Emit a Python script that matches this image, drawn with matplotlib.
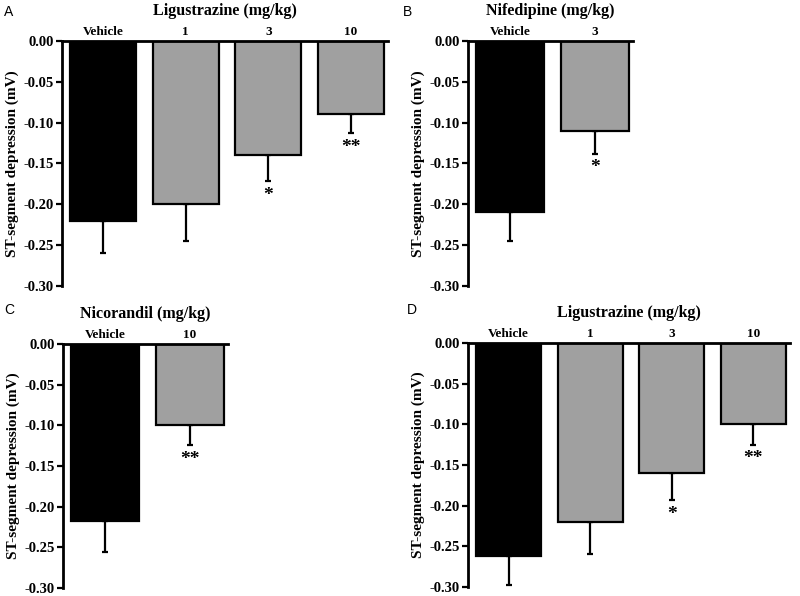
import matplotlib
matplotlib.use("Agg")
import matplotlib.pyplot as plt

# ---- data ----
a_labels = ["Vehicle", "1", "3", "10"]
a_means = [-0.220, -0.200, -0.140, -0.090]
a_errs = [0.040, 0.045, 0.032, 0.023]
a_sig = ["", "", "*", "**"]

b_labels = ["Vehicle", "3"]
b_means = [-0.210, -0.110]
b_errs = [0.0345, 0.028]
b_sig = ["", "*"]

c_labels = ["Vehicle", "10"]
c_means = [-0.218, -0.100]
c_errs = [0.038, 0.024]
c_sig = ["", "**"]

d_labels = ["Vehicle", "1", "3", "10"]
d_means = [-0.262, -0.220, -0.160, -0.100]
d_errs = [0.036, 0.040, 0.033, 0.025]
d_sig = ["", "", "*", "**"]

yticks = [0.00, -0.05, -0.10, -0.15, -0.20, -0.25, -0.30]

SERIF = ["Liberation Serif", "DejaVu Serif"]
SANS = ["Liberation Sans", "DejaVu Sans"]

fig = plt.figure(figsize=(8, 5.96), dpi=100)

panels = [
    ("A", "Ligustrazine (mg/kg)", a_labels, a_means, a_errs, a_sig, [62, 388, 41, 286], (9, 11.5)),
    ("B", "Nifedipine (mg/kg)", b_labels, b_means, b_errs, b_sig, [468, 633, 41, 286], (408, 11.5)),
    ("C", "Nicorandil (mg/kg)", c_labels, c_means, c_errs, c_sig, [63, 228, 344, 588], (9, 310.5)),
    ("D", "Ligustrazine (mg/kg)", d_labels, d_means, d_errs, d_sig, [468, 790, 343, 587], (412, 310.5)),
]

W, H = 800, 596
for letter, title, labels, means, errs, sig, (x0, x1, y0, y1), (lx, ly) in panels:
    ax = fig.add_axes([x0 / W, 1 - y1 / H, (x1 - x0) / W, (y1 - y0) / H])
    n = len(labels)
    xs = list(range(n))
    colors = ["#000000"] + ["#a0a0a0"] * (n - 1)
    ax.bar(xs, means, width=0.8, color=colors, edgecolor="black", linewidth=1.6, zorder=2)
    lower = errs
    upper = [0] * n
    ax.errorbar(xs, means, yerr=[lower, upper], fmt="none", ecolor="black",
                elinewidth=1.6, capsize=2.2, capthick=1.6, zorder=1)
    for x, m, e, s in zip(xs, means, errs, sig):
        if s:
            ax.text(x, m - e - 0.007, s, ha="center", va="top", fontsize=14,
                    fontweight="bold", family=SERIF)
    ax.set_xlim(-0.5, n - 0.55)
    ax.set_ylim(-0.30, 0.0)
    ax.set_yticks(yticks)
    ax.set_yticklabels([f"{v:.2f}" if v != 0 else "0.00" for v in yticks],
                       fontsize=10.5, fontweight="bold", family=SERIF)
    ax.xaxis.tick_top()
    ax.set_xticks(xs)
    ax.set_xticklabels(labels, fontsize=9.5, fontweight="bold", family=SERIF)
    ax.tick_params(axis="x", direction="in", length=4, width=1.6, pad=2)
    ax.tick_params(axis="y", direction="out", length=4, width=1.6, pad=2)
    for sp in ["bottom", "right"]:
        ax.spines[sp].set_visible(False)
    ax.spines["left"].set_linewidth(2)
    ax.spines["top"].set_linewidth(2)
    ax.set_title(title, fontsize=11.5, fontweight="bold", family=SERIF, pad=19)
    ax.set_ylabel("ST-segment depression (mV)", fontsize=11, fontweight="bold",
                  family=SERIF, labelpad=3)
    fig.text(lx / W, 1 - ly / H, letter, fontsize=10, family=SANS,
             ha="center", va="center")

fig.savefig("out.png", dpi=100)
